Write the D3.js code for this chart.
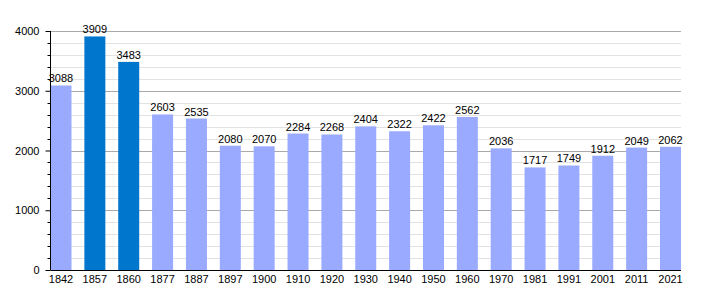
<!DOCTYPE html>
<html>
<head>
<meta charset="utf-8">
<script src="https://cdn.jsdelivr.net/npm/d3@7"></script>
<style>
  body { margin: 0; background: #fff; }
  svg text { font-family: "Liberation Sans", Arial, sans-serif; font-size: 11px; fill: #000; }
</style>
</head>
<body>
<div id="chart"></div>
<script>
// census years and population
var years = ["1842","1857","1860","1877","1887","1897","1900","1910","1920","1930","1940","1950","1960","1970","1981","1991","2001","2011","2021"];
var population = [3088,3909,3483,2603,2535,2080,2070,2284,2268,2404,2322,2422,2562,2036,1717,1749,1912,2049,2062];
// years drawn in the darker colour
var highlighted = ["1857","1860"];
var yTicks = [0,1000,2000,3000,4000];

var chartWidth = 710, chartHeight = 300;
var plotLeft = 50.5, plotRight = 681, plotTop = 31, plotBottom = 270;

var svg = d3.select("#chart").append("svg")
    .attr("width", chartWidth)
    .attr("height", chartHeight);

var x = d3.scaleBand().domain(years).range([plotLeft, plotRight])
    .paddingInner(0.38).paddingOuter(0);
var y = d3.scaleLinear().domain([0, 4000]).range([plotBottom, plotTop]);

//minor grid every 200
var minor = d3.range(200, 4001, 200).filter(function(v){ return v % 1000 != 0; });
svg.append("g").selectAll("line").data(minor).enter().append("line")
    .attr("x1", plotLeft).attr("x2", plotRight)
    .attr("y1", function(d){ return Math.round(y(d)) + 0.5; })
    .attr("y2", function(d){ return Math.round(y(d)) + 0.5; })
    .style("stroke", "#e2e2e2").style("stroke-width", 1);

//major grid
svg.append("g").selectAll("line").data(yTicks.slice(1)).enter().append("line")
    .attr("x1", plotLeft).attr("x2", plotRight)
    .attr("y1", function(d){ return Math.round(y(d)) + 0.5; })
    .attr("y2", function(d){ return Math.round(y(d)) + 0.5; })
    .style("stroke", "#aaaaaa").style("stroke-width", 1);

//bars
svg.append("g").selectAll("rect").data(population).enter().append("rect")
    .attr("x", function(d,i){ return x(years[i]); })
    .attr("width", x.bandwidth())
    .attr("y", function(d){ return y(d); })
    .attr("height", function(d){ return plotBottom - y(d); })
    .style("fill", function(d,i){ return highlighted.indexOf(years[i]) >= 0 ? "#0077cc" : "#99aaff"; });

//value labels
svg.append("g").selectAll("text").data(population).enter().append("text")
    .attr("x", function(d,i){ return x(years[i]) + x.bandwidth()/2; })
    .attr("y", function(d){ return y(d) - 3; })
    .style("text-anchor", "middle")
    .text(function(d){ return d; });

//y axis with minor ticks
var yAxis = d3.axisLeft(y).tickValues(yTicks).tickSize(5).tickPadding(6).tickFormat(d3.format("d"));
var gy = svg.append("g").attr("transform", "translate(" + plotLeft + ",0)").call(yAxis);
gy.select(".domain").remove();
gy.selectAll(".tick text").style("font-family", "\"Liberation Sans\", Arial, sans-serif").style("font-size", "11px");
svg.append("g").selectAll("line").data(minor).enter().append("line")
    .attr("x1", plotLeft - 3).attr("x2", plotLeft)
    .attr("y1", function(d){ return Math.round(y(d)) + 0.5; })
    .attr("y2", function(d){ return Math.round(y(d)) + 0.5; })
    .style("stroke", "#000").style("stroke-width", 1);
svg.append("line")
    .attr("x1", plotLeft).attr("x2", plotLeft).attr("y1", plotTop).attr("y2", plotBottom)
    .style("stroke", "#000").style("stroke-width", 1);

//x axis
var xAxis = d3.axisBottom(x).tickSize(0).tickPadding(5);
var gx = svg.append("g").attr("transform", "translate(0," + (plotBottom + 0.5) + ")").call(xAxis);
gx.select(".domain").remove();
gx.selectAll(".tick text").style("font-family", "\"Liberation Sans\", Arial, sans-serif").style("font-size", "11px");
svg.append("line")
    .attr("x1", plotLeft).attr("x2", plotRight).attr("y1", plotBottom + 0.5).attr("y2", plotBottom + 0.5)
    .style("stroke", "#000").style("stroke-width", 1.2);
</script>
</body>
</html>
